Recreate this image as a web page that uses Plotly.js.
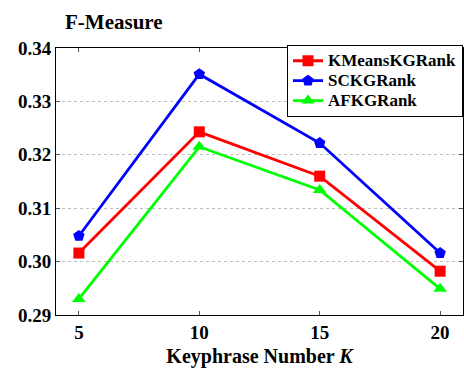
<!DOCTYPE html>
<html><head><meta charset="utf-8">
<script src="https://cdn.plot.ly/plotly-3.0.1.min.js"></script>
<style>html,body{margin:0;padding:0;background:#fff;}</style>
</head><body>
<div id="chart" style="width:464px;height:368px;"></div>
<script>
var kValues = [5, 10, 15, 20];
var seriesNames = ["KMeansKGRank", "SCKGRank", "AFKGRank"];
var kmeansKG = [0.3016, 0.3243, 0.3160, 0.2982];
var sckg = [0.3048, 0.3351, 0.3222, 0.3016];
var afkg = [0.2930, 0.3215, 0.3134, 0.2949];
var yTicks = [0.29, 0.30, 0.31, 0.32, 0.33, 0.34];

var font = "Liberation Serif";
function tr(y, name, color, symbol, size) {
  return {x: kValues, y: y, name: '<span style="font-size:17px">' + name + '</span>',
    type: 'scatter', mode: 'lines+markers',
    line: {color: color, width: 2.8},
    marker: {color: color, symbol: symbol, size: size}};
}
var data = [
  tr(kmeansKG, seriesNames[0], '#ff0000', 'square', 11),
  tr(sckg, seriesNames[1], '#0000ff', 'pentagon', 12),
  tr(afkg, seriesNames[2], '#00ff00', 'triangle-up', 12)
];
var layout = {
  width: 464, height: 368,
  margin: {l: 56, r: 1, t: 48, b: 53},
  paper_bgcolor: '#fff', plot_bgcolor: '#fff',
  font: {family: font, color: '#000', size: 18, weight: 'bold'},
  title: {text: '<b>F-Measure</b>', font: {family: font, size: 21, color: '#000'},
    xref: 'container', yref: 'container', x: 65/464, xanchor: 'left', y: 1 - 22/368, yanchor: 'middle'},
  xaxis: {range: [4.05, 20.95], tickvals: kValues, ticktext: kValues.map(String),
    showline: true, mirror: 'ticks', linecolor: '#000', linewidth: 1,
    ticks: 'inside', ticklen: 4, tickcolor: '#555', showgrid: false, zeroline: false,
    tickfont: {family: font, size: 19, weight: 'bold'},
    title: {text: '<b>Keyphrase Number </b><i>K</i>', font: {family: font, size: 20}, standoff: 10}},
  yaxis: {range: [0.29, 0.34], tickvals: yTicks, ticktext: yTicks.map(function(v){return v.toFixed(2);}),
    showline: true, mirror: 'ticks', linecolor: '#000', linewidth: 1,
    ticks: 'inside', ticklen: 4, tickcolor: '#555',
    showgrid: true, gridcolor: '#bdbdbd', griddash: '3px,3px', gridwidth: 1, zeroline: false,
    tickfont: {family: font, size: 19, weight: 'bold'}},
  legend: {x: 1, xanchor: 'right', y: 1.012, yanchor: 'top', bgcolor: '#fff',
    bordercolor: '#000', borderwidth: 1, tracegroupgap: 0,
    font: {family: font, size: 13, weight: 'bold'}, itemwidth: 30},
  showlegend: true
};
Plotly.newPlot('chart', data, layout, {staticPlot: true, displayModeBar: false});
</script>
</body></html>
